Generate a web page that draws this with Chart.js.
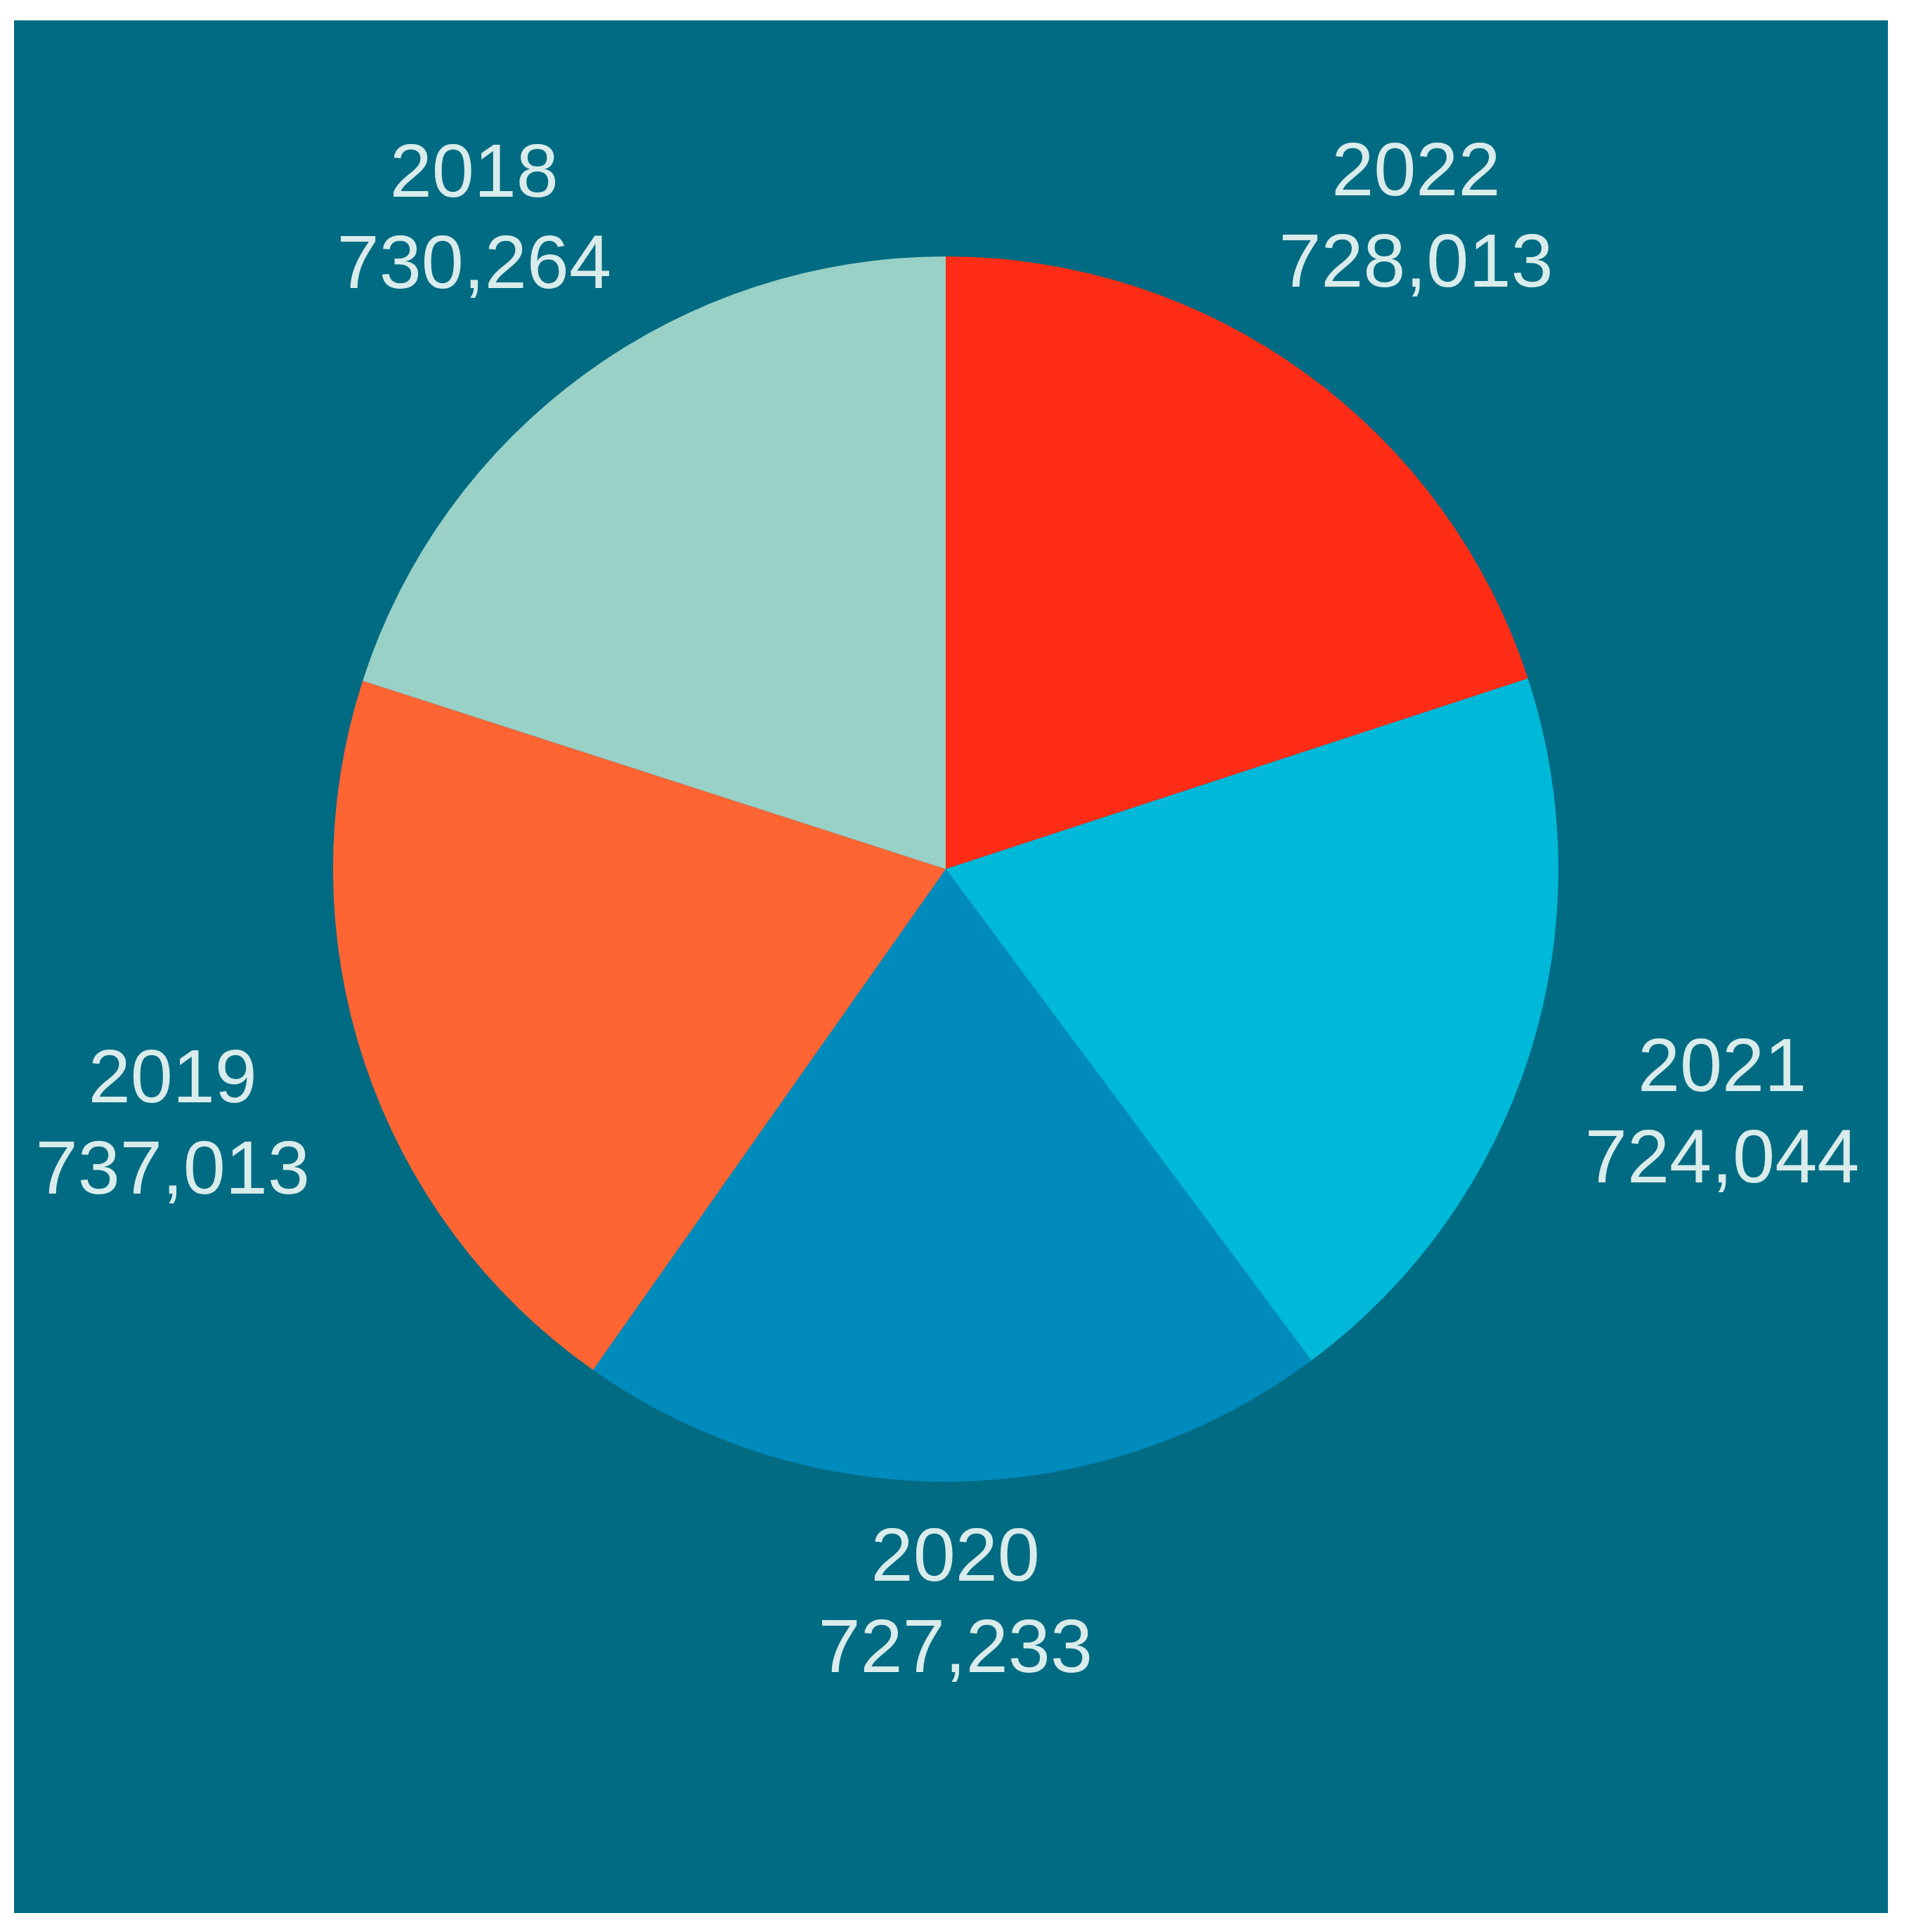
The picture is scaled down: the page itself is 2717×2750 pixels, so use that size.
<!DOCTYPE html>
<html>
<head>
<meta charset="utf-8">
<script src="https://cdn.jsdelivr.net/npm/chart.js@4.4.1/dist/chart.umd.min.js"></script>
<style>
  html, body { margin: 0; padding: 0; background: #ffffff; }
  body { width: 2717px; height: 2750px; position: relative; overflow: hidden; }
  .panel {
    position: absolute;
    left: 20px;
    top: 29px;
    width: 2667px;
    height: 2694px;
    background: #006b82;
  }
</style>
</head>
<body>
<div class="panel"><canvas id="pie"></canvas></div>
<script>
  // years clockwise from 12 o'clock
  const years = ["2022", "2021", "2020", "2019", "2018"];
  const totals = [728013, 724044, 727233, 737013, 730264];
  const sliceColors = ["#ff2d16", "#00b9d9", "#008bbd", "#ff6433", "#99d1c6"];

  const LABEL_FONT = 108;
  const LINE_GAP = 130;
  const LABEL_PAD = 70;

  function fmt(n) {
    return n.toLocaleString("en-US");
  }

  // puts the two-line label just outside the rim, pushed out by the text box size
  const outerLabels = {
    id: "outerLabels",
    afterDatasetsDraw(chart) {
      const { ctx } = chart;
      const meta = chart.getDatasetMeta(0);
      ctx.save();
      ctx.fillStyle = "#d9eceb";
      ctx.font = `${LABEL_FONT}px "Liberation Sans", Arial, sans-serif`;
      ctx.textAlign = "center";
      ctx.textBaseline = "middle";
      meta.data.forEach((arc, i) => {
        const p = arc.getProps(["x", "y", "startAngle", "endAngle", "outerRadius"], true);
        const mid = (p.startAngle + p.endAngle) / 2;
        const ux = Math.cos(mid);
        const uy = Math.sin(mid);
        const lines = [years[i], fmt(totals[i])];
        const w = Math.max(...lines.map((t) => ctx.measureText(t).width)) / 2;
        const h = (LINE_GAP + LABEL_FONT * 0.716) / 2;
        const d = p.outerRadius + LABEL_PAD + Math.abs(ux) * w + Math.abs(uy) * h;
        const cx = p.x + ux * d;
        const cy = p.y + uy * d;
        ctx.fillText(lines[0], cx, cy - LINE_GAP / 2);
        ctx.fillText(lines[1], cx, cy + LINE_GAP / 2);
      });
      ctx.restore();
    },
  };

  new Chart(document.getElementById("pie"), {
    type: "pie",
    data: {
      labels: years,
      datasets: [
        {
          data: totals,
          backgroundColor: sliceColors,
          borderWidth: 0,
          hoverOffset: 0,
        },
      ],
    },
    options: {
      responsive: true,
      maintainAspectRatio: false,
      animation: false,
      layout: { padding: { left: 454, right: 469, top: 336, bottom: 614 } },
      plugins: {
        legend: { display: false },
        tooltip: { enabled: false },
      },
    },
    plugins: [outerLabels],
  });
</script>
</body>
</html>
